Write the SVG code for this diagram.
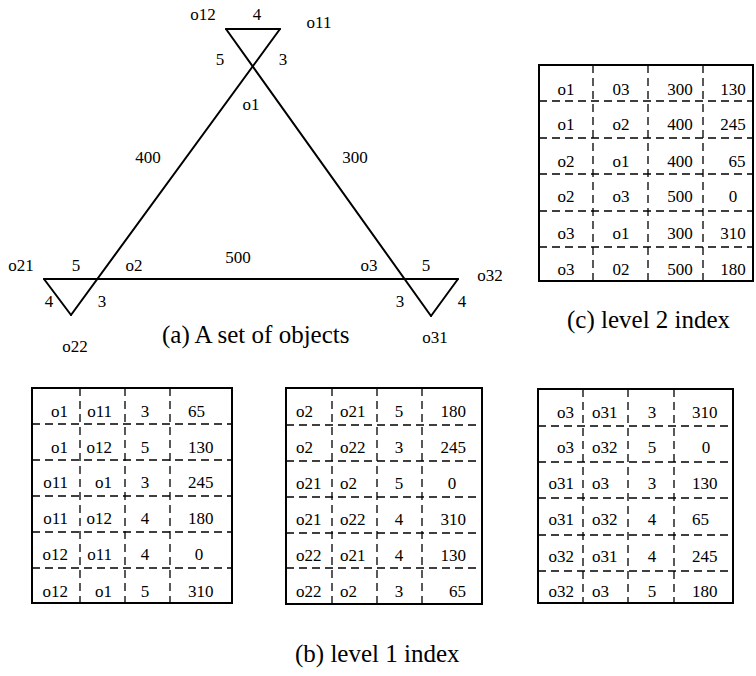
<svg xmlns="http://www.w3.org/2000/svg" width="756" height="676" viewBox="0 0 756 676">
<style>
text{font-family:"Liberation Serif","Times New Roman",serif;fill:#000}
.l{font-size:17px}
.c{font-size:25px}
.t{font-size:17px}
.m{text-anchor:middle}
.e{text-anchor:end}
.edge{stroke:#000;stroke-width:2;fill:none;stroke-linecap:round}
.bd{stroke:#000;stroke-width:2;fill:#fff}
.ds{stroke:#000;stroke-width:1.3;stroke-dasharray:8 5;fill:none}
</style>
<rect width="756" height="676" fill="#fff"/>
<g id="connectors">
<line class="edge" x1="226" y1="29" x2="280" y2="29"/>
<line class="edge" x1="280" y1="29" x2="71" y2="315"/>
<line class="edge" x1="226" y1="29" x2="431" y2="316"/>
<line class="edge" x1="44" y1="279" x2="458" y2="279"/>
<line class="edge" x1="44" y1="279" x2="71" y2="315"/>
<line class="edge" x1="458" y1="279" x2="431" y2="316"/>
</g>
<g id="labels-a">
<text class="l m" x="203" y="20">o12</text>
<text class="l m" x="257" y="20">4</text>
<text class="l m" x="319" y="28">o11</text>
<text class="l m" x="220" y="65">5</text>
<text class="l m" x="283" y="65">3</text>
<text class="l m" x="251" y="110">o1</text>
<text class="l m" x="148" y="163">400</text>
<text class="l m" x="355" y="163">300</text>
<text class="l m" x="21" y="271">o21</text>
<text class="l m" x="76" y="271">5</text>
<text class="l m" x="134" y="271">o2</text>
<text class="l m" x="238" y="263">500</text>
<text class="l m" x="369" y="271">o3</text>
<text class="l m" x="426" y="271">5</text>
<text class="l m" x="490" y="281">o32</text>
<text class="l m" x="49" y="307">4</text>
<text class="l m" x="102" y="307">3</text>
<text class="l m" x="400" y="307">3</text>
<text class="l m" x="462" y="307">4</text>
<text class="l m" x="75" y="352">o22</text>
<text class="l m" x="435" y="343">o31</text>
<text class="c" x="162" y="343">(a) A set of objects</text>
</g>
<g id="table-c">
<rect class="bd" x="539" y="65" width="214" height="216"/>
<path class="ds" d="M539 101H753M539 138H753M539 174H753M539 211H753M539 247H753M593 65V281M648 65V281M703 65V281"/>
<g class="t">
<text class="m" x="566" y="95">o1</text><text class="m" x="621" y="95">03</text><text class="m" x="680" y="95">300</text><text class="m" x="733" y="95">130</text>
<text class="m" x="566" y="130">o1</text><text class="m" x="621" y="130">o2</text><text class="m" x="680" y="130">400</text><text class="m" x="733" y="130">245</text>
<text class="m" x="566" y="167">o2</text><text class="m" x="621" y="167">o1</text><text class="m" x="680" y="167">400</text><text class="m" x="737" y="167">65</text>
<text class="m" x="566" y="202">o2</text><text class="m" x="621" y="202">o3</text><text class="m" x="680" y="202">500</text><text class="m" x="733" y="202">0</text>
<text class="m" x="566" y="239">o3</text><text class="m" x="621" y="239">o1</text><text class="m" x="680" y="239">300</text><text class="m" x="733" y="239">310</text>
<text class="m" x="566" y="275">o3</text><text class="m" x="621" y="275">02</text><text class="m" x="680" y="275">500</text><text class="m" x="733" y="275">180</text>
</g>
<text class="c" x="567" y="328">(c) level 2 index</text>
</g>
<g id="table-b1">
<rect class="bd" x="32" y="388" width="200" height="215"/>
<path class="ds" d="M32 424H232M32 460H232M32 496H232M32 532H232M32 568H232M80 388V603M125 388V603M170 388V603"/>
<g class="t">
<text class="e" x="68" y="417">o1</text><text class="e" x="112" y="417">o11</text><text class="m" x="145" y="417">3</text><text x="188" y="417">65</text>
<text class="e" x="68" y="453">o1</text><text class="e" x="112" y="453">o12</text><text class="m" x="145" y="453">5</text><text x="188" y="453">130</text>
<text class="e" x="68" y="488">o11</text><text class="e" x="112" y="488">o1</text><text class="m" x="145" y="488">3</text><text x="188" y="488">245</text>
<text class="e" x="68" y="524">o11</text><text class="e" x="112" y="524">o12</text><text class="m" x="145" y="524">4</text><text x="188" y="524">180</text>
<text class="e" x="68" y="560">o12</text><text class="e" x="112" y="560">o11</text><text class="m" x="145" y="560">4</text><text class="m" x="199" y="560">0</text>
<text class="e" x="68" y="597">o12</text><text class="e" x="112" y="597">o1</text><text class="m" x="145" y="597">5</text><text x="188" y="597">310</text>
</g>
</g>
<g id="table-b2">
<rect class="bd" x="286" y="388" width="196" height="216"/>
<path class="ds" d="M286 425H482M286 461H482M286 497H482M286 533H482M286 568H482M332 388V604M377 388V604M422 388V604"/>
<g class="t">
<text x="296" y="417">o2</text><text x="340" y="417">o21</text><text class="m" x="399" y="417">5</text><text class="e" x="466" y="417">180</text>
<text x="296" y="453">o2</text><text x="340" y="453">o22</text><text class="m" x="399" y="453">3</text><text class="e" x="466" y="453">245</text>
<text x="296" y="489">o21</text><text x="340" y="489">o2</text><text class="m" x="399" y="489">5</text><text class="m" x="452" y="489">0</text>
<text x="296" y="525">o21</text><text x="340" y="525">o22</text><text class="m" x="399" y="525">4</text><text class="e" x="466" y="525">310</text>
<text x="296" y="561">o22</text><text x="340" y="561">o21</text><text class="m" x="399" y="561">4</text><text class="e" x="466" y="561">130</text>
<text x="296" y="597">o22</text><text x="340" y="597">o2</text><text class="m" x="399" y="597">3</text><text class="e" x="466" y="597">65</text>
</g>
</g>
<g id="table-b3">
<rect class="bd" x="538" y="389" width="195" height="214"/>
<path class="ds" d="M538 426H733M538 462H733M538 498H733M538 535H733M538 571H733M583 389V603M628 389V603M674 389V603"/>
<g class="t">
<text class="e" x="574" y="418">o3</text><text x="592" y="418">o31</text><text class="m" x="652" y="418">3</text><text x="692" y="418">310</text>
<text class="e" x="574" y="453">o3</text><text x="592" y="453">o32</text><text class="m" x="652" y="453">5</text><text class="m" x="706" y="453">0</text>
<text class="e" x="574" y="489">o31</text><text x="592" y="489">o3</text><text class="m" x="652" y="489">3</text><text x="692" y="489">130</text>
<text class="e" x="574" y="525">o31</text><text x="592" y="525">o32</text><text class="m" x="652" y="525">4</text><text x="692" y="525">65</text>
<text class="e" x="574" y="562">o32</text><text x="592" y="562">o31</text><text class="m" x="652" y="562">4</text><text x="692" y="562">245</text>
<text class="e" x="574" y="597">o32</text><text x="592" y="597">o3</text><text class="m" x="652" y="597">5</text><text x="692" y="597">180</text>
</g>
</g>
<text class="c" x="295" y="662">(b) level 1 index</text>
</svg>
